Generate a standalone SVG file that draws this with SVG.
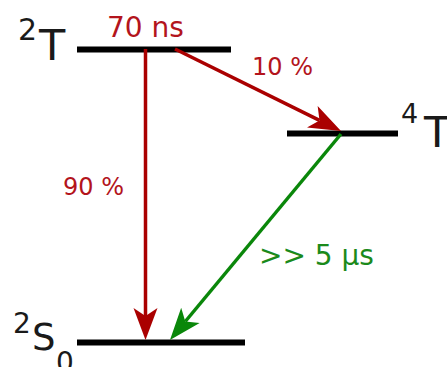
<svg xmlns="http://www.w3.org/2000/svg" width="447" height="367" viewBox="0 0 447 367">
<style>
text{font-family:"DejaVu Sans","Verdana",sans-serif}
.lvl{stroke:#000;stroke-width:6;fill:none}
.lab{fill:#1a1a1a}
.r{fill:#b3141c}
.g{fill:#1b8a1b}
.ar{stroke:#aa0000;stroke-width:3.5;fill:none}
.ag{stroke:#0a870a;stroke-width:3.5;fill:none}
</style>
<defs>
<marker id="mr" markerUnits="userSpaceOnUse" markerWidth="40" markerHeight="40" viewBox="-2 -16 40 32" refX="8" refY="0" orient="auto" overflow="visible">
<path d="M32,0 L0,-12 L8,0 L0,12 Z" fill="#aa0000"/>
</marker>
<marker id="mg" markerUnits="userSpaceOnUse" markerWidth="40" markerHeight="40" viewBox="-2 -16 40 32" refX="8" refY="0" orient="auto" overflow="visible">
<path d="M32,0 L0,-12 L8,0 L0,12 Z" fill="#0a870a"/>
</marker>
</defs>
<g id="level-2T">
<line class="lvl" x1="77" y1="49.5" x2="231" y2="49.5"/>
<text class="lab" x="18" y="40" font-size="30">2</text>
<text class="lab" x="39" y="60" font-size="43">T</text>
</g>
<g id="level-4T">
<line class="lvl" x1="287" y1="133.5" x2="398" y2="133.5"/>
<text class="lab" x="401" y="123" font-size="27">4</text>
<text class="lab" x="424" y="147" font-size="43">T</text>
</g>
<g id="level-2S0">
<line class="lvl" x1="77" y1="342.5" x2="245" y2="342.5"/>
<text class="lab" x="13" y="333" font-size="28">2</text>
<text class="lab" x="32" y="350" font-size="37">S</text>
<text class="lab" x="56" y="372" font-size="28">0</text>
</g>
<g id="connectors">
<line class="ar" x1="145.5" y1="49" x2="145.5" y2="316" marker-end="url(#mr)"/>
<line class="ar" x1="175" y1="49" x2="319.5" y2="120.4" marker-end="url(#mr)"/>
<line class="ag" x1="341" y1="134" x2="185.3" y2="321.5" marker-end="url(#mg)"/>
</g>
<g id="labels">
<text class="r" x="107" y="37" font-size="28">70 ns</text>
<text class="r" x="252" y="75" font-size="24">10 %</text>
<text class="r" x="63" y="195" font-size="24">90 %</text>
<text class="g" x="259" y="265" font-size="28">&gt;&gt; 5 µs</text>
</g>
</svg>
